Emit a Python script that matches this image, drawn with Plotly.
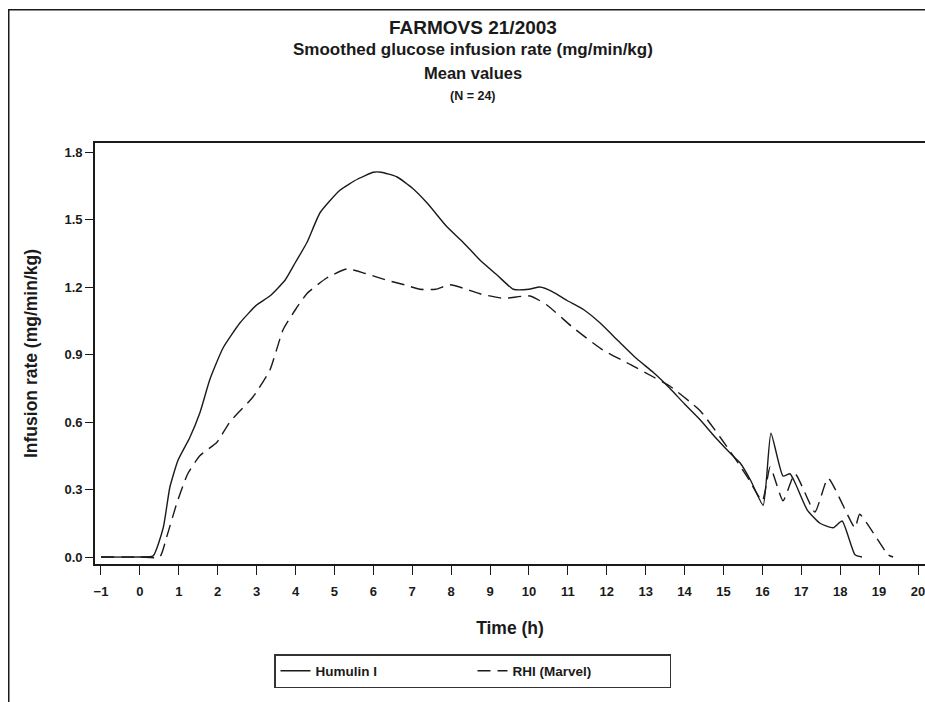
import plotly.graph_objects as go

# ---- data ----
humulin_x = [-1, 0, 0.34, 0.6, 0.77, 0.98, 1.28, 1.54, 1.8, 2.14, 2.57, 3.0, 3.34, 3.73, 4.0,
             4.3, 4.63, 5.14, 5.6, 6.0, 6.2, 6.6, 7.0, 7.4, 7.88, 8.3, 8.74, 9.2, 9.6, 10.0,
             10.28, 10.6, 10.98, 11.4, 11.83, 12.3, 12.78, 13.2, 13.62, 14.0, 14.4, 14.8,
             15.24, 15.42, 15.7, 16.02, 16.22, 16.53, 16.71, 16.84, 17.15, 17.48, 17.82,
             18.05, 18.38, 18.56]
humulin_y = [0, 0, 0.005, 0.13, 0.31, 0.43, 0.53, 0.64, 0.79, 0.93, 1.04, 1.12, 1.16, 1.23, 1.31,
             1.40, 1.53, 1.63, 1.68, 1.71, 1.71, 1.69, 1.64, 1.57, 1.47, 1.40, 1.32, 1.25, 1.19, 1.19,
             1.20, 1.18, 1.14, 1.10, 1.04, 0.96, 0.88, 0.82, 0.75, 0.68, 0.61, 0.53,
             0.45, 0.42, 0.34, 0.23, 0.55, 0.36, 0.37, 0.33, 0.21, 0.15, 0.13,
             0.16, 0.01, 0.0]

rhi_x = [-1, 0, 0.51, 0.69, 0.95, 1.23, 1.54, 1.98, 2.31, 2.9, 3.34, 3.68, 4.0, 4.29, 4.8,
         5.32, 5.8, 6.35, 6.8, 7.2, 7.6, 7.97, 8.4, 8.74, 9.33, 10.03, 10.46, 11.13, 11.9,
         12.67, 13.2, 13.62, 14.4, 15.09, 15.6, 16.0, 16.2, 16.53, 16.84, 17.35, 17.69,
         18.38, 18.5, 19.23, 19.36]
rhi_y = [0, 0, 0.0, 0.09, 0.24, 0.37, 0.45, 0.51, 0.60, 0.71, 0.83, 1.01, 1.10, 1.17, 1.24,
         1.28, 1.26, 1.23, 1.21, 1.19, 1.19, 1.21, 1.19, 1.17, 1.15, 1.16, 1.12, 1.02, 0.92,
         0.85, 0.80, 0.76, 0.65, 0.49, 0.36, 0.25, 0.40, 0.25, 0.37, 0.20, 0.35,
         0.13, 0.19, 0.01, 0.0]

series_names = ["Humulin I", "RHI (Marvel)"]
x_ticks = list(range(-1, 21))
y_ticks = [0.0, 0.3, 0.6, 0.9, 1.2, 1.5, 1.8]
y_tick_text = ["0.0", "0.3", "0.6", "0.9", "1.2", "1.5", "1.8"]

title_lines = ["FARMOVS 21/2003",
               "Smoothed glucose infusion rate (mg/min/kg)",
               "Mean values",
               "(N = 24)"]

FONT = "Liberation Sans, Arial, Helvetica, sans-serif"
INK = "#1a1a1a"

fig = go.Figure()
fig.add_trace(go.Scatter(x=humulin_x, y=humulin_y, mode="lines", name=series_names[0],
                         line=dict(color=INK, width=1.4, shape="spline", smoothing=0.5)))
fig.add_trace(go.Scatter(x=rhi_x, y=rhi_y, mode="lines", name=series_names[1],
                         line=dict(color=INK, width=1.4, dash="13px,7px", shape="spline", smoothing=0.5)))

W, H = 925, 702
L, R, T, B = 95, 0, 143, 138
pw, ph = W - L - R, H - T - B

def px_x(p):
    return (p - L) / pw

def px_y(p):
    return (H - B - p) / ph

# page frame: an empty bordered box whose right/bottom edges lie outside the picture
annotations = [dict(text=" ", xref="paper", yref="paper", x=px_x(8), y=px_y(9),
                    xanchor="left", yanchor="top", showarrow=False,
                    width=960, height=740, borderpad=0, borderwidth=1.5, bordercolor=INK,
                    bgcolor="rgba(0,0,0,0)")]

title_sizes = [19, 17, 16.5, 12.5]
title_y = [28, 50, 73, 96]
for txt, sz, yy in zip(title_lines, title_sizes, title_y):
    annotations.append(dict(text=txt, xref="paper", yref="paper", x=px_x(473), y=px_y(yy),
                            xanchor="center", yanchor="middle", showarrow=False,
                            font=dict(family=FONT, size=sz, color=INK, weight="bold")))

fig.update_layout(
    width=W, height=H,
    margin=dict(l=L, r=R, t=T, b=B, pad=0),
    paper_bgcolor="white", plot_bgcolor="white",
    font=dict(family=FONT, color=INK, size=12, weight="bold"),
    annotations=annotations,
    showlegend=True,
    legend=dict(orientation="h", x=px_x(274), xanchor="left", y=px_y(654), yanchor="top",
                bordercolor="#333", borderwidth=1.5, font=dict(family=FONT, size=13.5, weight="bold"),
                entrywidth=152, entrywidthmode="pixels", bgcolor="white"),
    xaxis=dict(range=[-1.154, 20.18], tickmode="array", tickvals=x_ticks,
               ticks="outside", ticklen=9, tickwidth=1.2, tickcolor=INK,
               showline=True, linewidth=1.6, linecolor=INK, mirror=True,
               showgrid=False, zeroline=False, ticklabelstandoff=6, ticklabeloverflow="allow",
               tickfont=dict(family=FONT, size=13, weight="bold"),
               title=dict(text="Time (h)", font=dict(family=FONT, size=17.5, weight="bold"), standoff=23)),
    yaxis=dict(range=[-0.031, 1.84], tickmode="array", tickvals=y_ticks, ticktext=y_tick_text,
               ticks="outside", ticklen=8, tickwidth=1.2, tickcolor=INK,
               showline=True, linewidth=1.6, linecolor=INK, mirror=False,
               showgrid=False, zeroline=False,
               tickfont=dict(family=FONT, size=13, weight="bold"),
               title=dict(text="Infusion rate (mg/min/kg)", font=dict(family=FONT, size=17.5, weight="bold"),
                          standoff=22)),
)

fig.write_html("out.html", config={"displayModeBar": False})
